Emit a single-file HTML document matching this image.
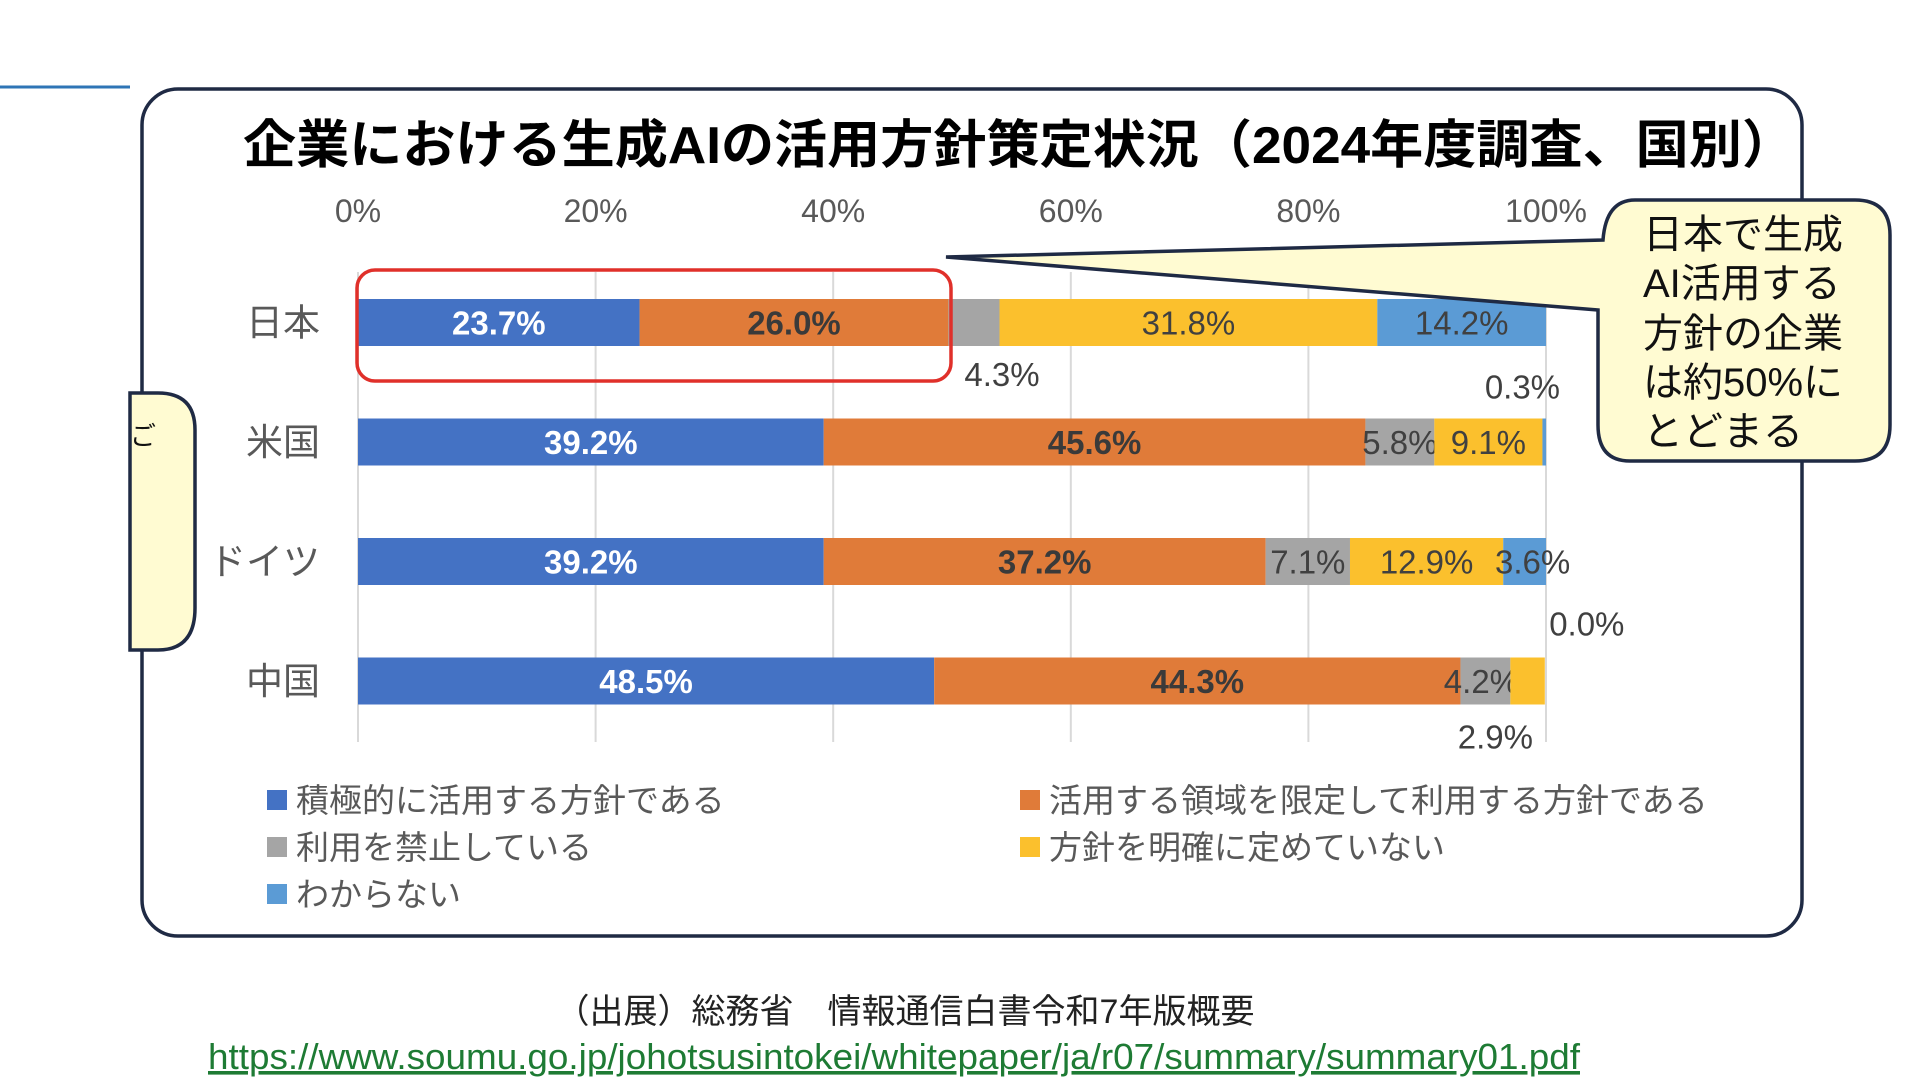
<!DOCTYPE html>
<html><head><meta charset="utf-8"><style>
html,body{margin:0;padding:0;background:#fff;width:1920px;height:1080px;overflow:hidden}
svg{display:block}
text{font-family:"Liberation Sans","Noto Sans CJK JP",sans-serif}
</style></head><body>
<svg id="chart" width="1920" height="1080" viewBox="0 0 1920 1080" xmlns="http://www.w3.org/2000/svg">
<line x1="0" y1="87" x2="130" y2="87" stroke="#2e75b6" stroke-width="3"/>
<rect x="142" y="89" width="1660" height="847" rx="36" fill="#fff" stroke="#1f2a44" stroke-width="3.5"/>
<text x="243" y="163" font-size="52" font-weight="bold" fill="#000" textLength="1552" lengthAdjust="spacingAndGlyphs">企業における生成AIの活用方針策定状況（2024年度調査、国別）</text>
<g id="grid"></g>
<g id="xticks"></g>
<g id="cats"></g>
<g id="bars"></g>
<rect x="357" y="270" width="594" height="111" rx="18" fill="none" stroke="#e0302a" stroke-width="3.5"/>
<g>
<path d="M1635,200 H1855 Q1890,200 1890,235 V425 Q1890,461 1855,461 H1630 Q1598,461 1598,425 V310 L946,257 L1603,240 Q1606,200 1635,200 Z" fill="#fffbd2" stroke="#1f2a44" stroke-width="3.5"/>
<g font-size="40" fill="#111">
<text x="1643" y="248">日本で生成</text>
<text x="1643" y="297">AI活用する</text>
<text x="1643" y="347">方針の企業</text>
<text x="1643" y="396">は約50%に</text>
<text x="1643" y="445">とどまる</text>
</g></g>
<path d="M130,393 H158 Q195,393 195,430 V608 Q195,650 158,650 H130 Z" fill="#fffbd2" stroke="#1f2a44" stroke-width="3.5"/>
<text x="130" y="445" font-size="26" fill="#111">ご</text>
<g id="legend"></g>
<text x="905" y="1023" font-size="34" fill="#222" text-anchor="middle">（出展）総務省　情報通信白書令和7年版概要</text>
<text x="208" y="1069" font-size="36" fill="#1e7b34" text-decoration="underline" textLength="1372" lengthAdjust="spacingAndGlyphs">https://www.soumu.go.jp/johotsusintokei/whitepaper/ja/r07/summary/summary01.pdf</text>
</svg>
<script>
const categories = ["日本","米国","ドイツ","中国"];
const seriesNames = ["積極的に活用する方針である","活用する領域を限定して利用する方針である","利用を禁止している","方針を明確に定めていない","わからない"];
const seriesActive = [23.7, 39.2, 39.2, 48.5];
const seriesLimited = [26.0, 45.6, 37.2, 44.3];
const seriesBanned = [4.3, 5.8, 7.1, 4.2];
const seriesUndecided = [31.8, 9.1, 12.9, 2.9];
const seriesUnknown = [14.2, 0.3, 3.6, 0.0];
const tickValues = [0,20,40,60,80,100];
const tickLabels = ["0%","20%","40%","60%","80%","100%"];

const NS="http://www.w3.org/2000/svg";
const colors=["#4472c4","#e07b39","#a5a5a5","#fbc02d","#5b9bd5"];
const series=[seriesActive,seriesLimited,seriesBanned,seriesUndecided,seriesUnknown];
const x0=358,x1=1546;
function xs(v){return x0+(x1-x0)*v/100;}
function yb(i){return 299+i*119.5;}
const barH=47;
function el(tag,attrs,parent,txt){const e=document.createElementNS(NS,tag);for(const k in attrs)e.setAttribute(k,attrs[k]);if(txt!==undefined)e.textContent=txt;parent.appendChild(e);return e;}
const grid=document.getElementById('grid'),xt=document.getElementById('xticks'),cats=document.getElementById('cats'),bars=document.getElementById('bars'),leg=document.getElementById('legend');
tickValues.forEach((v,i)=>{
  const l=el('line',{x1:xs(v),x2:xs(v),y1:272,y2:742,stroke:'#d9d9d9','stroke-width':2},grid);
  
  
  const t=el('text',{x:xs(v),y:222,'font-size':32,fill:'#595959','text-anchor':'middle'},xt,tickLabels[i]);
  
  
});
categories.forEach((c,i)=>{
  const t=el('text',{x:320,y:yb(i)+barH/2+13,'font-size':37,fill:'#595959','text-anchor':'end'},cats,c);
  
  
  let acc=0;
  series.forEach((s,k)=>{
    const v=s[i];
    const r=el('rect',{x:xs(acc),y:yb(i),width:Math.max(0,xs(acc+v)-xs(acc)),height:barH,fill:colors[k]},bars);
    
    
    const mid=xs(acc+v/2);
    const lab=v.toFixed(1)+'%';
    let tx=mid,ty=yb(i)+barH/2+12,fill='#404040',fw='normal';
    if(k===0){fill='#fff';fw='bold';}
    if(k===1){fill='#3a3a3a';fw='bold';}
    if(v<5){
      if(k===2&&i===0){tx=mid+28;ty=yb(i)+barH+40;}
      else if(k===4&&i===1){tx=xs(acc)-20;ty=yb(i)-20;}
      else if(k===4&&i===3){tx=xs(acc)+42;ty=yb(i)-22;}
      else if(k===3&&i===3){tx=xs(acc)-15;ty=yb(i)+barH+44;}
      else if(k===4&&i===2){tx=mid+8;}
      else if(k===2){tx=mid-4;}
    }
    const t2=el('text',{x:tx,y:ty,'font-size':33,fill:fill,'font-weight':fw,'text-anchor':'middle'},bars,lab);
    
    
    acc+=v;
  });
});
const legPos=[[267,800],[1020,800],[267,847],[1020,847],[267,894]];
seriesNames.forEach((n,k)=>{
  const [lx,ly]=legPos[k];
  const sq=el('rect',{x:lx,y:ly-10,width:20,height:20,fill:colors[k]},leg);
  
  
  const t=el('text',{x:lx+29,y:ly+12,'font-size':33,fill:'#595959'},leg,n);
  
  
});
</script>
</body></html>
